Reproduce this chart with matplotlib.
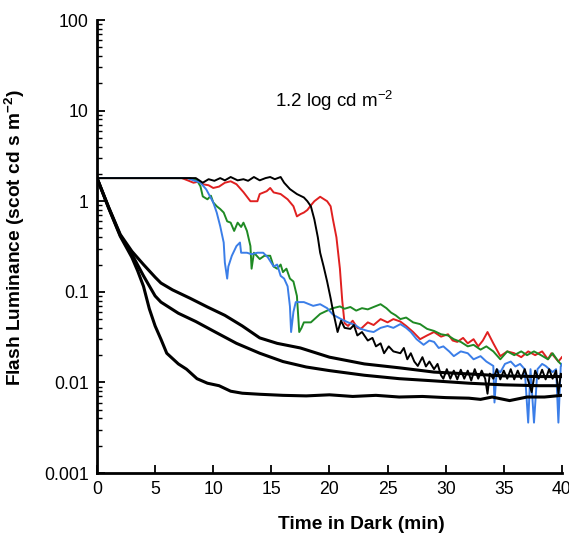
import matplotlib.pyplot as plt
from matplotlib.ticker import LogLocator, NullFormatter, FixedLocator

plt.rcParams['font.family'] = ['Liberation Sans', 'DejaVu Sans']
plt.rcParams['mathtext.fontset'] = 'custom'
plt.rcParams['mathtext.rm'] = 'Liberation Sans'
plt.rcParams['mathtext.bf'] = 'Liberation Sans:bold'

# smooth threshold curves (time in min, luminance)
upper_t = [0, 1, 2, 3, 4, 5, 5.5, 6.5, 8, 9.5, 11, 12.5, 14, 15.5, 17.5, 20, 23, 26, 29, 32, 35, 38, 40]
upper_v = [1.8, 0.86, 0.43, 0.28, 0.2, 0.145, 0.125, 0.105, 0.085, 0.068, 0.055, 0.042, 0.031, 0.027,
           0.024, 0.019, 0.016, 0.0145, 0.013, 0.0124, 0.0118, 0.0116, 0.0116]

middle_t = [0, 1, 2, 3, 4, 5, 5.5, 7, 8.5, 10, 12, 14, 16, 18, 20, 23, 26, 29, 32, 35, 38, 40]
middle_v = [1.8, 0.85, 0.42, 0.26, 0.15, 0.09, 0.077, 0.058, 0.047, 0.037, 0.027, 0.021, 0.017,
            0.0148, 0.0135, 0.012, 0.011, 0.0104, 0.0098, 0.0094, 0.0092, 0.0092]

lower_t = [0, 1, 2, 3, 3.5, 4, 4.5, 5, 5.5, 6, 7, 7.7, 8.6, 9.5, 10.5, 11.5, 12.5, 14, 16, 18, 20,
           22, 24, 26, 28, 30, 32, 33, 34, 35.5, 37, 38.5, 40]
lower_v = [1.8, 0.84, 0.41, 0.24, 0.17, 0.115, 0.065, 0.042, 0.03, 0.021, 0.016, 0.014, 0.011,
           0.0098, 0.0092, 0.008, 0.0076, 0.0074, 0.0072, 0.0071, 0.0073, 0.007, 0.0072, 0.0069,
           0.007, 0.0068, 0.0067, 0.0065, 0.0069, 0.0063, 0.0069, 0.0069, 0.0072]

# noisy tracking curves: (time, luminance)
red_pts = [(0, 1.8), (7.3, 1.8), (7.8, 1.7), (8.3, 1.6), (8.8, 1.65), (9.1, 1.54), (9.6, 1.5),
           (10, 1.4), (10.5, 1.45), (11, 1.6), (11.5, 1.66), (12, 1.54), (12.6, 1.26), (13.2, 1.0),
           (13.8, 1.0), (14.0, 1.2), (14.6, 1.29), (14.9, 1.4), (15.2, 1.25), (15.8, 1.2),
           (16.4, 1.05), (16.9, 0.88), (17.2, 0.68), (17.5, 0.72), (17.8, 0.75), (18.1, 0.8),
           (18.4, 0.9), (18.7, 1.0), (19.2, 1.12), (19.8, 1.0), (20.1, 0.88), (20.3, 0.63),
           (20.6, 0.4), (20.9, 0.18), (21.1, 0.08), (21.3, 0.045), (21.6, 0.042), (22.0, 0.048),
           (22.4, 0.04), (22.7, 0.039), (23.3, 0.046), (23.8, 0.043), (24.4, 0.05), (25.0, 0.046),
           (25.5, 0.05), (26.1, 0.047), (26.6, 0.042), (27.2, 0.036), (27.8, 0.03), (28.4, 0.033),
           (29.0, 0.036), (29.6, 0.032), (30.2, 0.034), (30.6, 0.029), (31.0, 0.028), (31.5, 0.031),
           (31.9, 0.027), (32.4, 0.03), (32.8, 0.025), (33.2, 0.029), (33.6, 0.036), (34.1, 0.027),
           (34.7, 0.0195), (35.3, 0.022), (35.9, 0.021), (36.5, 0.019), (37.1, 0.022), (37.7, 0.02),
           (38.3, 0.022), (38.8, 0.018), (39.1, 0.021), (39.7, 0.017), (40, 0.019)]

green_pts = [(0, 1.8), (8.0, 1.8), (8.6, 1.7), (8.9, 1.46), (9.1, 1.13), (9.5, 1.05), (9.8, 1.15),
             (10, 0.97), (10.3, 0.88), (10.6, 0.82), (10.9, 0.75), (11.2, 0.6), (11.5, 0.58),
             (11.8, 0.47), (12.1, 0.58), (12.4, 0.52), (12.6, 0.58), (12.9, 0.47), (13.2, 0.32),
             (13.3, 0.18), (13.5, 0.27), (14.0, 0.23), (14.4, 0.25), (14.9, 0.25), (15.2, 0.19),
             (15.5, 0.18), (15.8, 0.2), (16.0, 0.165), (16.3, 0.18), (16.6, 0.14), (16.9, 0.13),
             (17.2, 0.09), (17.4, 0.036), (17.6, 0.04), (17.8, 0.046), (18.4, 0.046), (19.2, 0.057),
             (19.8, 0.062), (20.3, 0.066), (20.9, 0.069), (21.3, 0.065), (21.8, 0.068), (22.3, 0.062),
             (22.8, 0.066), (23.3, 0.064), (23.8, 0.068), (24.4, 0.073), (24.9, 0.066), (25.3, 0.059),
             (25.7, 0.055), (26.1, 0.05), (26.6, 0.052), (27.2, 0.046), (27.8, 0.044), (28.4, 0.039),
             (29.0, 0.037), (29.6, 0.034), (30.2, 0.033), (30.7, 0.03), (31.3, 0.028), (31.9, 0.025),
             (32.4, 0.026), (33.0, 0.023), (33.5, 0.025), (34.1, 0.022), (34.7, 0.018), (35.3, 0.022),
             (35.9, 0.02), (36.5, 0.022), (37.0, 0.02), (37.6, 0.022), (38.2, 0.02), (38.8, 0.018),
             (39.2, 0.021), (39.7, 0.017), (40, 0.0155)]

blue_pts = [(0, 1.8), (7.8, 1.8), (8.3, 1.7), (8.9, 1.6), (9.4, 1.35), (10, 0.97), (10.3, 0.75),
            (10.6, 0.53), (10.9, 0.35), (11.0, 0.21), (11.2, 0.14), (11.3, 0.19), (11.6, 0.25),
            (12.0, 0.32), (12.3, 0.35), (12.4, 0.27), (12.9, 0.27), (13.3, 0.26), (13.8, 0.27),
            (14.3, 0.27), (14.7, 0.24), (15.2, 0.19), (15.5, 0.2), (15.8, 0.15), (16.1, 0.14),
            (16.4, 0.115), (16.6, 0.069), (16.7, 0.036), (16.9, 0.06), (17.1, 0.077), (17.8, 0.077),
            (18.6, 0.07), (19.2, 0.073), (19.8, 0.066), (20.3, 0.056), (21.0, 0.05), (21.6, 0.046),
            (22.2, 0.043), (22.7, 0.039), (23.3, 0.037), (23.8, 0.036), (24.4, 0.04), (25.0, 0.042),
            (25.5, 0.04), (26.1, 0.044), (26.6, 0.04), (27.0, 0.036), (27.5, 0.03), (28.1, 0.026),
            (28.6, 0.029), (29.0, 0.028), (29.4, 0.024), (29.8, 0.025), (30.3, 0.022), (30.7, 0.0195),
            (31.3, 0.022), (31.9, 0.021), (32.4, 0.018), (33.0, 0.0195), (33.5, 0.017), (34.1, 0.0152),
            (34.2, 0.006), (34.4, 0.014), (34.7, 0.0129), (35.1, 0.016), (35.6, 0.017), (36.0, 0.015),
            (36.4, 0.016), (36.8, 0.014), (37.1, 0.0036), (37.3, 0.014), (37.6, 0.0036), (37.9, 0.014),
            (38.3, 0.016), (38.6, 0.0152), (39.2, 0.013), (39.5, 0.014), (39.7, 0.0036), (39.9, 0.015),
            (40, 0.016)]

black_pts = [(0, 1.8), (8.5, 1.8), (9.1, 1.6), (9.6, 1.75), (10.1, 1.68), (10.6, 1.8), (11.0, 1.7),
             (11.5, 1.85), (12.1, 1.7), (12.6, 1.75), (13.0, 1.68), (13.5, 1.85), (14.0, 1.7),
             (14.5, 1.8), (14.9, 1.85), (15.3, 1.75), (15.8, 1.85), (16.1, 1.6), (16.6, 1.36),
             (17.2, 1.2), (17.8, 1.1), (18.1, 1.0), (18.4, 0.88), (18.7, 0.63), (19.0, 0.4),
             (19.2, 0.27), (19.5, 0.19), (19.8, 0.13), (20.1, 0.085), (20.3, 0.062), (20.7, 0.036),
             (21.0, 0.048), (21.3, 0.04), (21.8, 0.039), (22.1, 0.043), (22.4, 0.033), (22.8, 0.036),
             (23.3, 0.029), (23.7, 0.031), (24.0, 0.025), (24.4, 0.027), (24.7, 0.021), (25.1, 0.025),
             (25.5, 0.022), (26.1, 0.021), (26.4, 0.024), (26.7, 0.018), (27.0, 0.021), (27.3, 0.017),
             (27.6, 0.0152), (28.0, 0.019), (28.3, 0.015), (28.6, 0.017), (29.0, 0.014), (29.3, 0.016),
             (29.6, 0.012), (29.8, 0.011), (30.1, 0.014), (30.4, 0.011), (30.7, 0.0135), (31.0, 0.0108),
             (31.3, 0.0138), (31.6, 0.011), (31.9, 0.0135), (32.2, 0.0105), (32.5, 0.014), (32.8, 0.011),
             (33.1, 0.0135), (33.4, 0.011), (33.6, 0.0075), (33.8, 0.0125), (34.1, 0.011), (34.4, 0.014),
             (34.7, 0.0108), (35.0, 0.0135), (35.3, 0.011), (35.6, 0.014), (35.9, 0.0108), (36.2, 0.0135),
             (36.5, 0.011), (36.8, 0.014), (37.1, 0.0105), (37.4, 0.0078), (37.7, 0.0135), (38.0, 0.011),
             (38.3, 0.0138), (38.6, 0.0108), (38.9, 0.014), (39.2, 0.011), (39.5, 0.0135), (39.7, 0.0075),
             (39.9, 0.0125), (40, 0.012)]

x_ticks = [0, 5, 10, 15, 20, 25, 30, 35, 40]
y_ticks = [0.001, 0.01, 0.1, 1, 10, 100]
y_labels = ['0.001', '0.01', '0.1', '1', '10', '100']

fig = plt.figure(figsize=(5.69, 5.34), dpi=100)
ax = fig.add_axes([0.1705, 0.1142, 0.817, 0.8483])

for pts, col in [(red_pts, '#e02020'), (green_pts, '#1f8a24'), (blue_pts, '#3b7ee8')]:
    t, v = zip(*pts)
    ax.plot(t, v, color=col, lw=1.4, zorder=2)

t, v = zip(*black_pts)
ax.plot(t, v, color='black', lw=1.4, zorder=3)

for t, v in [(upper_t, upper_v), (middle_t, middle_v), (lower_t, lower_v)]:
    ax.plot(t, v, color='black', lw=2.2, zorder=4)

ax.set_yscale('log')
ax.set_xlim(0, 40)
ax.set_ylim(0.001, 100)
ax.xaxis.set_major_locator(FixedLocator(x_ticks))
ax.set_yticks(y_ticks)
ax.set_yticklabels(y_labels)
ax.yaxis.set_minor_locator(LogLocator(base=10, subs=range(2, 10)))
ax.yaxis.set_minor_formatter(NullFormatter())

ax.spines['top'].set_visible(False)
ax.spines['right'].set_visible(False)
ax.spines['left'].set_linewidth(2)
ax.spines['bottom'].set_linewidth(2)
ax.tick_params(which='major', direction='in', length=6, width=1.3, labelsize=12.7, pad=6)
ax.tick_params(which='minor', direction='in', length=3.5, width=1.0)

ax.set_xlabel('Time in Dark (min)', fontsize=13.8, fontweight='bold')
ax.xaxis.set_label_coords(0.568, -0.095)
ax.set_ylabel('Flash Luminance (scot cd s m$^{\\mathbf{-2}}$)', fontsize=13.8, fontweight='bold')
ax.yaxis.set_label_coords(-0.15, 0.52)
ax.text(15.3, 13, '1.2 log cd m$^{-2}$', fontsize=13.5, ha='left', va='center')

fig.savefig('out.png', dpi=100)
